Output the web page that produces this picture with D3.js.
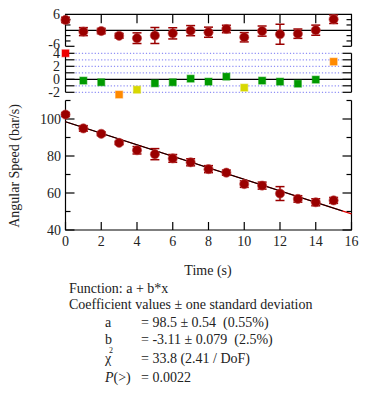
<!DOCTYPE html>
<html><head><meta charset="utf-8">
<script src="https://cdn.jsdelivr.net/npm/d3@7"></script>
<style>
html,body{margin:0;padding:0;background:#fff;}
</style></head>
<body><svg id="c" width="381" height="400" font-family="'Liberation Serif', 'DejaVu Serif', serif"></svg>
<script>
// ---- data ----
const times = [0,1,2,3,4,5,6,7,8,9,10,11,12,13,14,15];
const speed = [102.4,94.9,92.0,87.1,83.1,81.0,78.7,76.6,72.9,71.0,64.8,64.0,59.7,56.8,55.0,56.0];
const speedErr = [1.0,1.5,1.0,0.9,2.0,3.0,2.1,1.9,1.9,1.4,1.75,1.9,3.75,1.75,1.9,1.6];
const normResidual = [4.0,-0.2,-0.46,-2.35,-1.6,-0.62,-0.46,0.1,-0.36,0.41,-1.28,-0.2,-0.36,-0.67,-0.05,2.72];
const fitA = 98.5, fitB = -3.11;
const fitRangeFull = [0,16];
const fitRangeData = [0,15.5];
const xTicks = [0,2,4,6,8,10,12,14,16];
const mainMajorTicks = [40,60,80,100];
const mainMinorTicks = [50,70,90,110];
const topTickLabels = [6,-6];
const topMinorTicks = [-4,-2,2,4];
const midTickValues = [-2,-1,1,2,3,4];
const midTickLabels = [4,2,0,-2];
const textLines = ["Function: a + b*x","Coefficient values \u00b1 one standard deviation"];
const coefNames = ["a","b"];
const coefValues = ["= 98.5 \u00b1 0.54  (0.55%)","= -3.11 \u00b1 0.079  (2.5%)"];
const chiText = "= 33.8 (2.41 / DoF)";
const pText = "= 0.0022";

const svg = d3.select("#c");
const x = d3.scaleLinear().domain([0,16]).range([65.5,351.5]);
const yMain = d3.scaleLinear().domain([40,110]).range([230,100.5]);
const yTop = d3.scaleLinear().domain([-6,6]).range([46.3,14.3]);
const yMid = d3.scaleLinear().domain([-2,4]).range([92.3,53.3]);
const fit = t => fitA + fitB*t;
const residual = speed.map((v,i)=> v - fit(times[i]));
const dark = "#9a0000";
const txt = "#222";
const X0 = x.range()[0], X1 = x.range()[1];

function line(x1,y1,x2,y2,col,w,dash){
  const l = svg.append("line").attr("x1",x1).attr("y1",y1).attr("x2",x2).attr("y2",y2)
    .attr("stroke",col||"#000").attr("stroke-width",w||1.2);
  if(dash) l.attr("stroke-dasharray",dash);
  return l;
}

// ---------- TOP residual plot ----------
line(X0-0.5,yTop(6),X1+0.5,yTop(6));
line(X0,yTop(6),X0,yTop(-6));
line(X1,yTop(6),X1,yTop(-6));
line(X0,yTop(0),X1,yTop(0));
xTicks.filter(d=>d>0&&d<16).forEach(d=>line(x(d),yTop(6),x(d),yTop(6)+9));
line(X0,yTop(-6),X0+9,yTop(-6)); line(X1-9,yTop(-6),X1,yTop(-6));
topMinorTicks.forEach(d=>{line(X0,yTop(d),X0+5,yTop(d)); line(X1-5,yTop(d),X1,yTop(d));});
svg.selectAll(".tl").data(topTickLabels).enter().append("text").attr("fill",txt)
  .attr("x",60).attr("y",d=>yTop(d)+ (d>0?5:3)).attr("text-anchor","end").attr("font-size",14).text(d=>d);
const topG = svg.append("g");
times.forEach((t,i)=>{
  const cx=x(t), r=residual[i], e=speedErr[i];
  topG.append("line").attr("x1",cx).attr("x2",cx).attr("y1",yTop(r+e)).attr("y2",yTop(r-e)).attr("stroke",dark).attr("stroke-width",1.5);
  [r+e,r-e].forEach(v=>topG.append("line").attr("x1",cx-4.5).attr("x2",cx+4.5).attr("y1",yTop(v)).attr("y2",yTop(v)).attr("stroke",dark).attr("stroke-width",1.5));
  topG.append("circle").attr("cx",cx).attr("cy",yTop(r)).attr("r",4.6).attr("fill",dark).attr("stroke","#c04848").attr("stroke-opacity",0.6).attr("stroke-width",1);
});

// ---------- MIDDLE normalized residual plot ----------
line(X0,yMid(4),X0,yMid(-2));
line(X1,yMid(4),X1,yMid(-2));
midTickValues.concat([0]).forEach(d=>{
  line(X0,yMid(d),X0+9,yMid(d)); line(X1-9,yMid(d),X1,yMid(d));
  if(d!==0) line(X0+10,yMid(d),X1-10,yMid(d),"#8f8ff5",1.2,"1.2,2");
});
line(X0,yMid(0),X1,yMid(0));
svg.selectAll(".ml").data(midTickLabels).enter().append("text").attr("fill",txt)
  .attr("x",60).attr("y",d=>yMid(d)+4.5).attr("text-anchor","end").attr("font-size",14).text(d=>d);
const colorScale = d3.scaleThreshold().domain([1,2,3]).range(["#009a00","#d8d800","#ff8a00","#ee0000"]);
times.forEach((t,i)=>{
  const c = colorScale(Math.abs(normResidual[i]));
  svg.append("rect").attr("x",x(t)-3.5).attr("y",yMid(normResidual[i])-3.5).attr("width",7).attr("height",7)
    .attr("fill",c).attr("stroke",c).attr("stroke-opacity",0.45).attr("stroke-width",1.2);
});

// ---------- MAIN plot ----------
line(X0,yMain(110),X0,yMain(40));
line(X1,yMain(110),X1,yMain(40));
line(X0-0.5,yMain(40),X1+0.5,yMain(40));
mainMajorTicks.forEach(d=>{line(X0,yMain(d),X0+9,yMain(d)); line(X1-9,yMain(d),X1,yMain(d));});
mainMinorTicks.forEach(d=>{line(X0,yMain(d),X0+5,yMain(d)); line(X1-5,yMain(d),X1,yMain(d));});
xTicks.forEach(d=>line(x(d),yMain(40),x(d),yMain(40)-8));
svg.selectAll(".yl").data(mainMajorTicks).enter().append("text").attr("fill",txt)
  .attr("x",61).attr("y",d=>yMain(d)+5).attr("text-anchor","end").attr("font-size",14).text(d=>d);
svg.selectAll(".xl").data(xTicks).enter().append("text").attr("fill",txt)
  .attr("x",d=>x(d)).attr("y",246).attr("text-anchor","middle").attr("font-size",14).text(d=>d);
svg.append("text").attr("fill",txt).attr("x",208).attr("y",275).attr("text-anchor","middle").attr("font-size",14).text("Time (s)");
svg.append("text").attr("fill",txt).attr("transform","translate(19,166) rotate(-90)").attr("text-anchor","middle").attr("font-size",14).text("Angular Speed (bar/s)");

// fit lines
const fl = d3.line().x(d=>x(d)).y(d=>yMain(fit(d)));
svg.append("path").attr("d",fl(fitRangeFull)).attr("stroke","#e00000").attr("stroke-width",1.2).attr("fill","none");
svg.append("path").attr("d",fl(fitRangeData)).attr("stroke","#000").attr("stroke-width",1.2).attr("fill","none");

times.forEach((t,i)=>{
  const cx=x(t), v=speed[i], e=speedErr[i];
  svg.append("line").attr("x1",cx).attr("x2",cx).attr("y1",yMain(v+e)).attr("y2",yMain(v-e)).attr("stroke",dark).attr("stroke-width",1.5);
  [v+e,v-e].forEach(w=>svg.append("line").attr("x1",cx-4.5).attr("x2",cx+4.5).attr("y1",yMain(w)).attr("y2",yMain(w)).attr("stroke",dark).attr("stroke-width",1.5));
  svg.append("circle").attr("cx",cx).attr("cy",yMain(v)).attr("r",4.6).attr("fill",dark).attr("stroke","#c04848").attr("stroke-opacity",0.6).attr("stroke-width",1);
});

// ---------- text block ----------
const tb = svg.append("g").attr("font-size",14).attr("fill",txt);
tb.append("text").attr("x",69).attr("y",293).text(textLines[0]);
tb.append("text").attr("x",69).attr("y",309).text(textLines[1]);
coefNames.forEach((n,i)=>{
  tb.append("text").attr("x",105).attr("y",327+17*i).text(n);
  tb.append("text").attr("x",141).attr("y",327+17*i).attr("xml:space","preserve").style("white-space","pre").text(coefValues[i]);
});
tb.append("text").attr("x",105).attr("y",363).text("\u03c7");
tb.append("text").attr("x",109).attr("y",353).attr("font-size",8).text("2");
tb.append("text").attr("x",141).attr("y",363).text(chiText);
const pt = tb.append("text").attr("x",105).attr("y",382);
pt.append("tspan").attr("font-style","italic").text("P");
pt.append("tspan").text("(>)");
tb.append("text").attr("x",141).attr("y",382).text(pText);
</script></body></html>
